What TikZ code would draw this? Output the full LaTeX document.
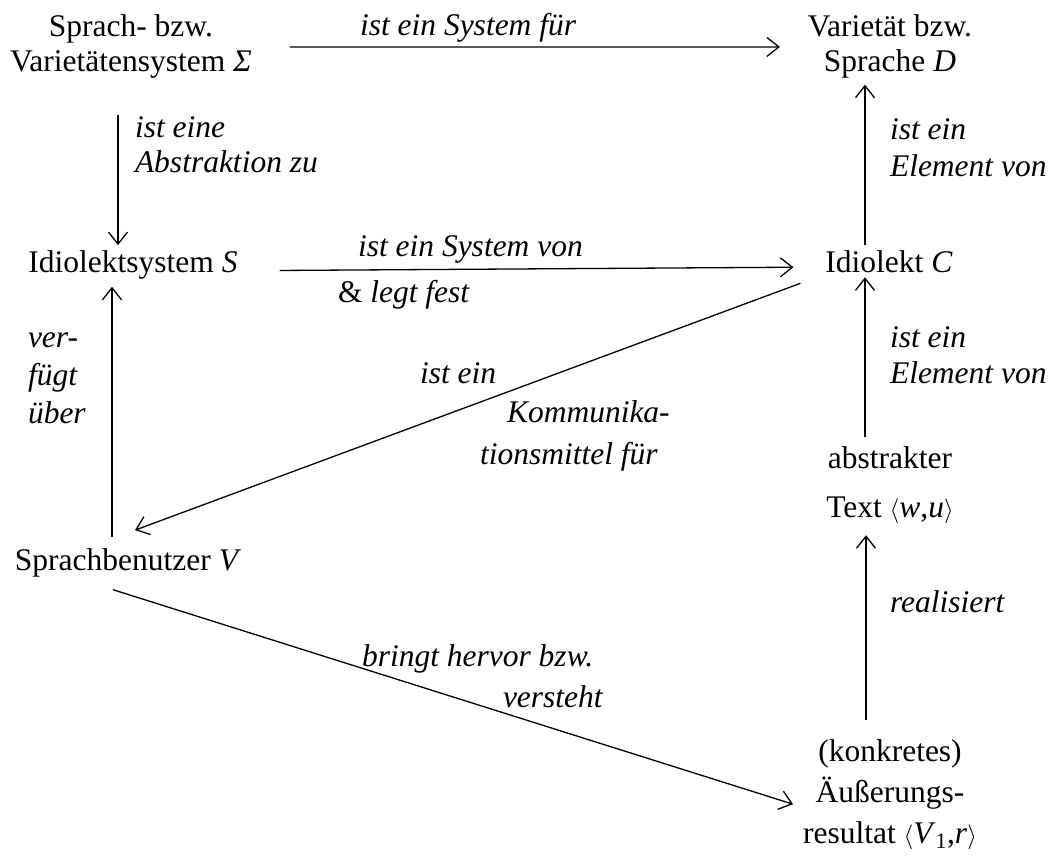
\documentclass[tikz,border=0pt]{standalone}
\usepackage{fontspec}
\setmainfont{Liberation Serif}[ItalicFont={Liberation Serif Italic}]
\usetikzlibrary{arrows.meta}
\begin{document}
\begin{tikzpicture}[x=1pt,y=1pt,
  every node/.style={inner sep=0pt,outer sep=0pt},
  term/.style={font=\fontsize{31.5}{35}\selectfont,align=center,anchor=base},
  lbl/.style={font=\fontsize{31.5}{36}\selectfont\itshape,align=left,anchor=base west},
  arr/.style={line width=1.3pt,-{Straight Barb[length=12pt,width=19pt,line width=1.3pt]}}]
\useasboundingbox (0,0) rectangle (1053,-861);
% terms (multi-line nodes are placed by the baseline of their last line)
\node[term] (sigma) at (131,-72) {Sprach- bzw.\\Varietätensystem \textit{Σ}};
\node[term] (D) at (890,-72) {Varietät bzw.\\Sprache \textit{D}};
\node[term] (S) at (133,-273) {Idiolektsystem \textit{S}};
\node[term] (C) at (889,-273) {Idiolekt \textit{C}};
\node[term,font=\fontsize{31.5}{49}\selectfont] (T) at (890,-517) {abstrakter\\Text $\langle$\textit{w},\textit{u}$\rangle$};
\node[term] (V) at (128,-570) {Sprachbenutzer \textit{V}};
\node[term,font=\fontsize{31.5}{41}\selectfont] (R) at (890,-843) {(konkretes)\\Äußerungs-\\resultat $\langle$\textit{V}\textsubscript{1},\textit{r}$\rangle$};
% labels
\node[lbl] (l1) at (360,-36) {ist ein System für};
\node[lbl,font=\fontsize{31.5}{35}\selectfont\itshape] (l2) at (135,-173) {ist eine\\Abstraktion zu};
\node[lbl,font=\fontsize{31.5}{37}\selectfont\itshape] (l3) at (890,-177) {ist ein\\Element von};
\node[lbl] (l4) at (358,-257) {ist ein System von};
\node[lbl] (l5) at (338,-302) {\upshape\&\itshape{} legt fest};
\node[lbl,font=\fontsize{31.5}{38}\selectfont\itshape] (l6) at (28,-423) {ver-\\fügt\\über};
\node[lbl] (l7a) at (420,-383) {ist ein};
\node[lbl] (l7b) at (507,-422) {Kommunika-};
\node[lbl] (l7c) at (480,-464) {tionsmittel für};
\node[lbl] (l8) at (890,-383) {ist ein\\Element von};
\node[lbl] (l9) at (890,-612) {realisiert};
\node[lbl] (l10a) at (362,-666) {bringt hervor bzw.};
\node[lbl] (l10b) at (503,-707) {versteht};
% connectors
\draw[arr] ([xshift=38pt]sigma.east) -- ([xshift=-28pt]D.west);
\draw[arr] ([xshift=-13pt,yshift=-36pt]sigma.south) -- ([xshift=-15pt,yshift=6pt]S.north);
\draw[arr] ([xshift=42pt,yshift=-5pt]S.east) -- ([xshift=-32pt,yshift=-5pt]C.west);
\draw[arr] ([xshift=-24pt,yshift=6pt]C.north) -- ([xshift=-25pt,yshift=-6pt]D.south);
\draw[arr] ([xshift=-25pt,yshift=9pt]T.north) -- ([xshift=-24pt,yshift=-4pt]C.south);
\draw[arr] ([xshift=-24pt,yshift=19pt]R.north) -- ([xshift=-24pt,yshift=-12pt]T.south);
\draw[arr] ([xshift=-16pt,yshift=11pt]V.north) -- ([xshift=-21pt,yshift=-7pt]S.south);
\draw[arr] ([xshift=-25pt,yshift=-10pt]C.south west) -- ([xshift=7pt,yshift=18pt]V.north);
\draw[arr] ([xshift=-15pt,yshift=-13pt]V.south) -- ([xshift=-10pt,yshift=-10pt]R.west);
\end{tikzpicture}
\end{document}
